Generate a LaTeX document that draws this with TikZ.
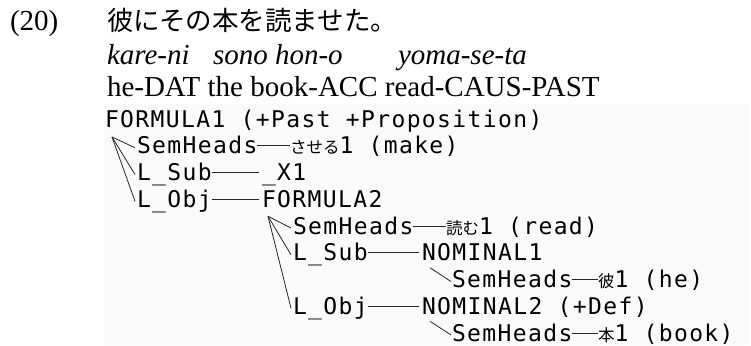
\documentclass[tikz,border=0pt]{standalone}
\usepackage{fontspec}
\setmainfont{Liberation Serif}
\newfontfamily\jpfont{Noto Sans CJK JP}
\newfontfamily\treefont[LetterSpace=6]{DejaVu Sans Mono}
\usetikzlibrary{calc}
\tikzset{
  txt/.style={anchor=base west, inner sep=0pt, outer sep=0pt},
  hdr/.style={txt, font=\fontsize{29}{29}\selectfont},
  hdrjp/.style={txt, font=\jpfont\fontsize{26.5}{26.5}\selectfont},
  hdrit/.style={txt, font=\fontsize{29}{29}\selectfont\itshape},
  tree/.style={txt, font=\treefont\fontsize{23}{23}\selectfont},
  treejp/.style={txt, font=\jpfont\fontsize{16.5}{16.5}\selectfont},
  link/.style={draw=black!85, line width=0.8pt},
}
\begin{document}
\begin{tikzpicture}[x=1pt, y=-1pt]
\useasboundingbox (0,0) rectangle (751,345);
\fill[black!2] (104,104) rectangle (749,345);
% header
\node[hdr] (ex) at (10,31) {(20)};
\node[hdrjp] (jp) at (107,31) {彼にその本を読ませた。};
\node[hdrit] (g1) at (107,64) {kare-ni};
\node[hdrit] (g2) at (213,64) {sono hon-o};
\node[hdrit] (g3) at (398,64) {yoma-se-ta};
\node[hdr] (gl) at (107,96) {he-DAT the book-ACC read-CAUS-PAST};
% tree
\node[tree] (f1) at (105,127) {FORMULA1 (+Past +Proposition)};
\node[tree] (sh1) at (137,153.75) {SemHeads};
\node[treejp] (j1) at (290,153.75) {させる};
\node[tree] (v1) at (j1.base east) {1 (make)};
\node[tree] (ls1) at (137,180.5) {L\_Sub};
\node[tree] (x1) at (262,180.5) {\_X1};
\node[tree] (lo1) at (137,207.25) {L\_Obj};
\node[tree] (f2) at (262,207.25) {FORMULA2};
\node[tree] (sh2) at (293,234) {SemHeads};
\node[treejp] (j2) at (446,234) {読む};
\node[tree] (v2) at (j2.base east) {1 (read)};
\node[tree] (ls2) at (293,260.75) {L\_Sub};
\node[tree] (n1) at (422,260.75) {NOMINAL1};
\node[tree] (sh3) at (452,287.5) {SemHeads};
\node[treejp] (j3) at (598,287.5) {彼};
\node[tree] (v3) at (j3.base east) {1 (he)};
\node[tree] (lo2) at (293,314.25) {L\_Obj};
\node[tree] (n2) at (422,314.25) {NOMINAL2 (+Def)};
\node[tree] (sh4) at (452,341) {SemHeads};
\node[treejp] (j4) at (598,341) {本};
\node[tree] (v4) at (j4.base east) {1 (book)};
% apex coordinates
\coordinate (a1) at ($(f1.base west)+(7,10)$);
\coordinate (a2) at ($(f2.base west)+(6,9)$);
\coordinate (a3) at ($(n1.base west)+(8,7)$);
\coordinate (a4) at ($(n2.base west)+(8,7)$);
% slanted links
\draw[link] (a1) -- ($(sh1.base west)+(-2,-6)$);
\draw[link] (a1) -- ($(ls1.base west)+(-2,-6)$);
\draw[link] (a1) -- ($(lo1.base west)+(-2,-6)$);
\draw[link] (a2) -- ($(sh2.base west)+(-2,-6)$);
\draw[link] (a2) -- ($(ls2.base west)+(-2,-6)$);
\draw[link] (a2) -- ($(lo2.base west)+(-2,-6)$);
\draw[link] (a3) -- ($(sh3.base west)+(-1,-6)$);
\draw[link] (a4) -- ($(sh4.base west)+(-1,-6)$);
% horizontal links
\draw[link] ($(sh1.base east)+(0,-8)$) -- ($(j1.base west)+(0,-8)$);
\draw[link] ($(ls1.base east)+(0,-8)$) -- ($(x1.base west)+(-3,-8)$);
\draw[link] ($(lo1.base east)+(0,-8)$) -- ($(f2.base west)+(-3,-8)$);
\draw[link] ($(sh2.base east)+(0,-8)$) -- ($(j2.base west)+(0,-8)$);
\draw[link] ($(ls2.base east)+(0,-8)$) -- ($(n1.base west)+(-3,-8)$);
\draw[link] ($(sh3.base east)+(0,-8)$) -- ($(j3.base west)+(0,-8)$);
\draw[link] ($(lo2.base east)+(0,-8)$) -- ($(n2.base west)+(-3,-8)$);
\draw[link] ($(sh4.base east)+(0,-8)$) -- ($(j4.base west)+(0,-8)$);
\end{tikzpicture}
\end{document}
